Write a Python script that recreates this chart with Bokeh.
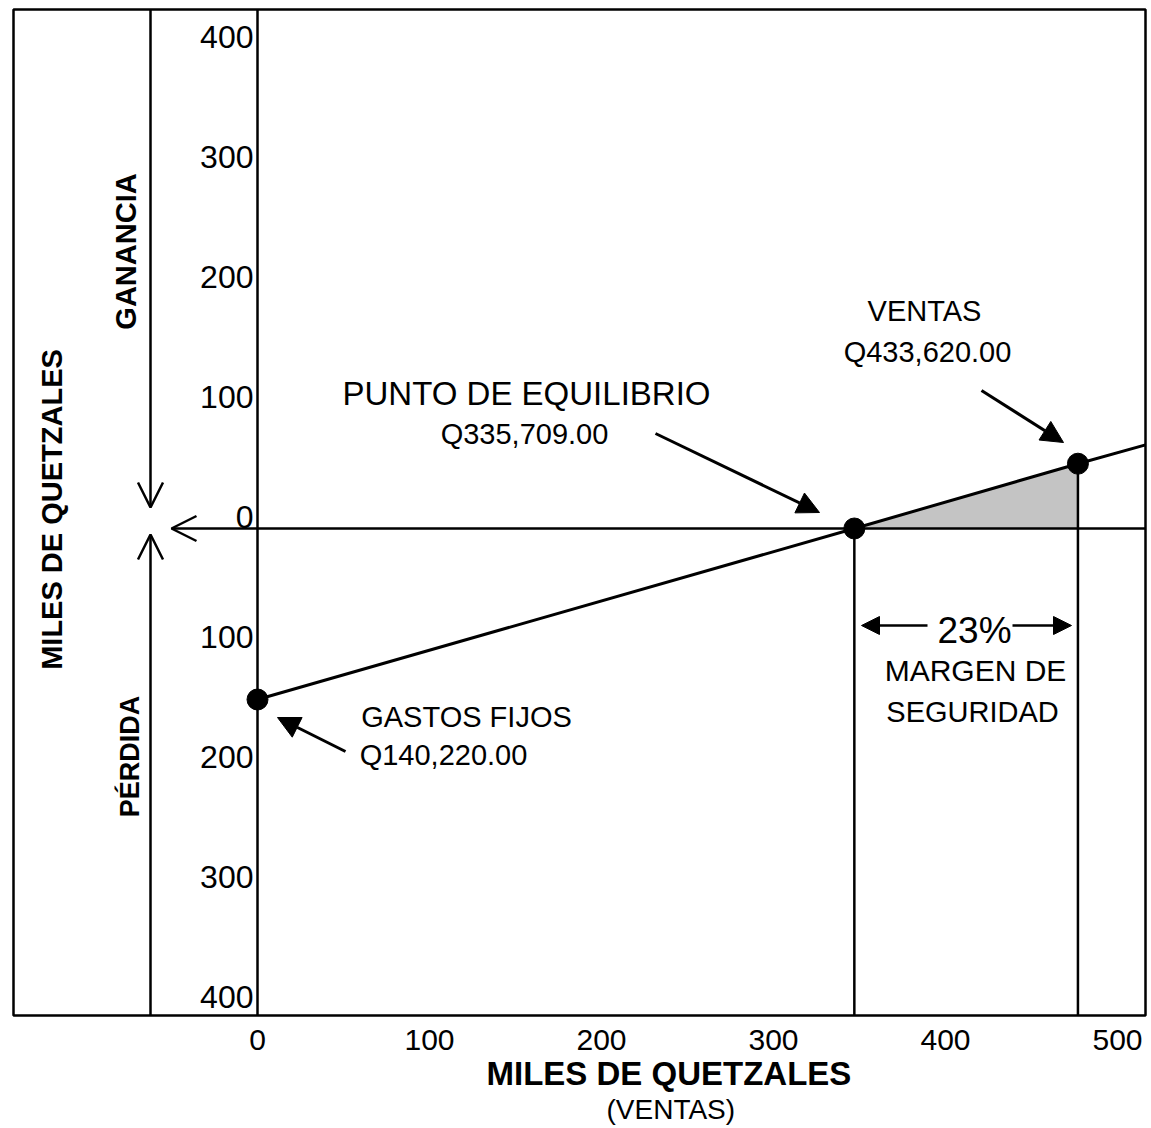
import math
from bokeh.plotting import figure
from bokeh.models import (Range1d, FixedTicker, Label, Arrow, Span,
                          OpenHead, NormalHead, Title)
from bokeh.core.properties import value
from bokeh.embed import file_html
from bokeh.resources import INLINE

# ---------------- data (miles de quetzales) ----------------
ventas_ticks = [0, 100, 200, 300, 400, 500]
miles_ticks = [400, 300, 200, 100, 0, -100, -200, -300, -400]
miles_tick_labels = ["400", "300", "200", "100", "0", "100", "200", "300", "400"]

puntos_nombres = ["Gastos fijos", "Punto de equilibrio", "Ventas"]
puntos_x = [0, 347, 477]          # ventas (miles)
puntos_y = [-142.5, 0, 54]        # ganancia / pérdida (miles)
linea_x = [0, 347, 477, 517]
linea_y = [-142.5, 0, 54, 70]

FONT = "Liberation Sans"

# ---------------- layout helpers (picture px -> data) ----------------
W, H = 1148, 1126
OFF = 1                 # picture px = figure px + OFF
X0, SX = 258.0, 1.72    # picture px of x=0, px per unit
Y0, SY = 529.0, 1.2     # picture px of y=0, px per unit
FL, FR, FT, FB = 14, 1146, 10, 1016   # frame edges in picture px


def dx(px):
    return (px - X0) / SX


def dy(py):
    return (Y0 - py) / SY


p = figure(width=W, height=H,
           x_range=Range1d(dx(FL), dx(FR)),
           y_range=Range1d(dy(FB), dy(FT)),
           output_backend="svg", toolbar_location=None,
           y_axis_location=None,
           min_border_left=FL - OFF, min_border_right=W - (FR - OFF),
           min_border_top=FT - OFF, min_border_bottom=H - (FB - OFF))
p.grid.visible = False
p.outline_line_color = "black"
p.outline_line_width = 2.5
p.background_fill_color = "white"
p.border_fill_color = "white"

# x axis
xa = p.xaxis[0]
xa.ticker = FixedTicker(ticks=ventas_ticks)
xa.axis_line_color = None
xa.major_tick_line_color = None
xa.minor_tick_line_color = None
xa.major_label_text_font = FONT
xa.major_label_text_font_size = "30px"
xa.major_label_text_color = "black"
xa.major_label_standoff = 8

# axis titles below
t1 = Title(text="MILES DE QUETZALES", align="left", offset=487 - FL,
           text_font=FONT, text_font_size="33px", text_font_style="bold",
           text_color="black", standoff=0)
t2 = Title(text="(VENTAS)", align="left", offset=607 - FL,
           text_font=FONT, text_font_size="28px", text_font_style="normal",
           text_color="black", standoff=0)
p.add_layout(t1, "below")
p.add_layout(t2, "below")

# vertical axis at x = 0 with its tick labels (printed just above each tick)
p.add_layout(Span(location=0, dimension="height", line_color="black", line_width=2.5))
p.text(x=[0] * len(miles_ticks), y=miles_ticks, text=miles_tick_labels,
       x_offset=-4, y_offset=-12, text_align="right", text_baseline="middle",
       text_font=value(FONT), text_font_size="32px", text_color="black")

# shaded safety margin area
p.patch([puntos_x[1], puntos_x[2], puntos_x[2]], [puntos_y[1], puntos_y[2], 0],
        fill_color="#c4c4c4", line_color=None)

# vertical lines from the points down
ybot = dy(FB)
p.segment(x0=puntos_x[1:], y0=puntos_y[1:], x1=puntos_x[1:], y1=[ybot, ybot],
          line_color="black", line_width=2.5)

# result line
p.line(linea_x, linea_y, line_color="black", line_width=3)

# points
p.scatter(puntos_x, puntos_y, size=21, color="black")

# axis arrows (left column)
oh = dict(size=25, line_width=2.5, line_color="black")
p.add_layout(Arrow(x_start=dx(FR), y_start=0, x_end=dx(172), y_end=0,
                   line_width=2.5, end=OpenHead(**oh)))
p.add_layout(Arrow(x_start=dx(151), y_start=dy(FT), x_end=dx(151), y_end=dy(508),
                   line_width=2.5, end=OpenHead(**oh)))
p.add_layout(Arrow(x_start=dx(151), y_start=dy(FB), x_end=dx(151), y_end=dy(535),
                   line_width=2.5, end=OpenHead(**oh)))

nh = dict(size=22, fill_color="black", line_color="black", line_width=1)
p.add_layout(Arrow(x_start=dx(656), y_start=dy(434), x_end=dx(820), y_end=dy(513),
                   line_width=3, end=NormalHead(**nh)))
p.add_layout(Arrow(x_start=dx(982), y_start=dy(391), x_end=dx(1064), y_end=dy(443),
                   line_width=3, end=NormalHead(**nh)))
p.add_layout(Arrow(x_start=dx(346), y_start=dy(752), x_end=dx(278), y_end=dy(718),
                   line_width=3, end=NormalHead(**nh)))
sh = dict(size=18, fill_color="black", line_color="black", line_width=1)
p.add_layout(Arrow(x_start=dx(928), y_start=dy(626), x_end=dx(862), y_end=dy(626),
                   line_width=2.5, end=NormalHead(**sh)))
p.add_layout(Arrow(x_start=dx(1013), y_start=dy(626), x_end=dx(1072), y_end=dy(626),
                   line_width=2.5, end=NormalHead(**sh)))


def lab(text, px, py, size, bold=False, angle=0.0, align="center"):
    p.add_layout(Label(x=dx(px), y=dy(py), text=text, text_font=FONT,
                       text_font_size=f"{size}px",
                       text_font_style="bold" if bold else "normal",
                       text_align=align, text_baseline="middle",
                       angle=angle, text_color="black"))


lab("PUNTO DE EQUILIBRIO", 527, 394, 33)
lab("Q335,709.00", 525, 434, 29)
lab("VENTAS", 925, 311, 29)
lab("Q433,620.00", 928, 352, 29)
lab("GASTOS FIJOS", 467, 717, 29)
lab("Q140,220.00", 444, 755, 29)
lab("23%", 975, 631, 37)
lab("MARGEN DE", 976, 671, 30)
lab("SEGURIDAD", 973, 712, 29)
lab("GANANCIA", 126, 252, 29, bold=True, angle=math.pi / 2)
lab("PÉRDIDA", 130, 757, 27, bold=True, angle=math.pi / 2)
lab("MILES DE QUETZALES", 52, 510, 29, bold=True, angle=math.pi / 2)

# page title, cut off at the top edge as in the reference
p.add_layout(Label(x=617 - OFF, y=H - 7, x_units="screen", y_units="screen",
                   text="Año 1", text_font=FONT, text_font_size="28px",
                   text_font_style="bold italic", text_align="center",
                   text_baseline="bottom", text_color="black"))

open("out.html", "w").write(file_html(p, INLINE))
